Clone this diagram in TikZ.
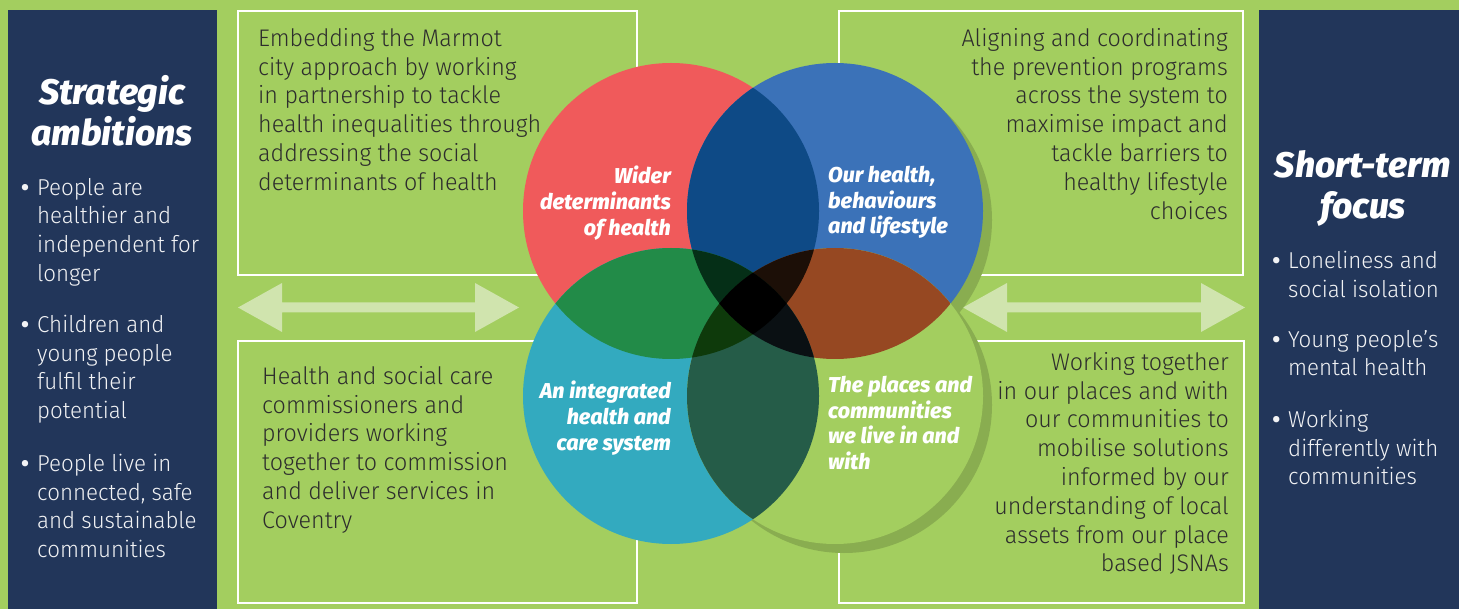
\documentclass[tikz,border=0pt]{standalone}
\usepackage{fontspec}
\usepackage{tikz}
\setmainfont{Fira Sans}[UprightFont={* Light}, FakeStretch=0.97]
\newfontfamily\headfont{Fira Sans}[UprightFont={* ExtraBold Italic}]
\newfontfamily\dotfont{Fira Sans}[UprightFont={* Bold}]
\definecolor{bg}{RGB}{163,206,95}
\definecolor{navy}{RGB}{34,54,90}
\definecolor{R}{RGB}{240,90,91}
\definecolor{B}{RGB}{59,114,184}
\definecolor{C}{RGB}{51,170,191}
\definecolor{G}{RGB}{163,206,95}
\definecolor{RB}{RGB}{14,74,134}
\definecolor{RC}{RGB}{34,139,72}
\definecolor{BG}{RGB}{150,72,34}
\definecolor{CG}{RGB}{37,92,72}
\definecolor{RBC}{RGB}{5,47,23}
\definecolor{RBG}{RGB}{28,15,7}
\definecolor{RCG}{RGB}{14,58,11}
\definecolor{BCG}{RGB}{10,16,19}
\definecolor{dropgreen}{RGB}{137,173,80}
\definecolor{pale}{RGB}{208,228,174}
\definecolor{ink}{RGB}{45,45,45}
\newcommand{\rad}{148pt}
\newcommand{\fillcircle}[2]{\fill[#2] (#1) circle[radius=\rad];}
\newcommand{\clipcircle}[1]{\clip (#1) circle[radius=\rad];}
\newcommand{\lens}[3]{\begin{scope}\clipcircle{#1}\fillcircle{#2}{#3}\end{scope}}
\newcommand{\trio}[4]{\begin{scope}\clipcircle{#1}\clipcircle{#2}\fillcircle{#3}{#4}\end{scope}}
\newcommand{\twoway}[3]{
    \fill[pale] (#1,#3)--(#1+44,#3-24.5)--(#1+44,#3-5)--(#2-44,#3-5)--(#2-44,#3-24.5)--(#2,#3)
    --(#2-44,#3+24.5)--(#2-44,#3+5)--(#1+44,#3+5)--(#1+44,#3+24.5)--cycle;
}
\newcommand{\bul}{\llap{{\dotfont\textbullet}\hspace{8pt}}}
\tikzset{
    body/.style={font=\fontsize{24}{28.8}\selectfont, text=ink, inner sep=0pt},
    side/.style={font=\fontsize{23}{28.6}\selectfont, text=white!94!navy, inner sep=0pt, align=left, anchor=north west},
    head/.style={font=\headfont\fontsize{35.5}{41}\selectfont, text=white, inner sep=0pt, align=center, anchor=north},
    venn/.style={font=\headfont\fontsize{21.5}{25.7}\selectfont, text=white, inner sep=0pt}
}
\begin{document}
\begin{tikzpicture}[x=1pt,y=-1pt]
\useasboundingbox (0,0) rectangle (1459,609);
\fill[bg] (0,0) rectangle (1459,609);
\fill[navy] (8,10) rectangle (217,609);
\fill[navy] (1259,10) rectangle (1459,609);
\foreach \xa/\ya/\xb/\yb in {238/11/637/275, 238/341/637/603, 839/11/1243/275, 839/341/1244/603}{
    \draw[white, line width=2.5pt] (\xa,\ya) rectangle (\xb,\yb);
}
\twoway{238}{519}{307.5}
\twoway{963}{1245}{307.5}
\coordinate (r) at (671,211);
\coordinate (b) at (835,211);
\coordinate (c) at (671,396);
\coordinate (g) at (835,396);
\foreach \p in {b,g}{
    \fill[dropgreen] ([shift={(9,9)}]\p) circle[radius=\rad];
}
\foreach \p/\col in {r/R, b/B, c/C, g/G}{
    \fillcircle{\p}{\col}
}
\foreach \p/\q/\col in {r/b/RB, r/c/RC, b/g/BG, c/g/CG}{
    \lens{\p}{\q}{\col}
}
\foreach \p/\q/\s/\col in {r/b/c/RBC, r/b/g/RBG, r/c/g/RCG, b/c/g/BCG}{
    \trio{\p}{\q}{\s}{\col}
}
\begin{scope}
\clipcircle{r}\clipcircle{b}\clipcircle{c}\fillcircle{g}{black}
\end{scope}
\node[venn, anchor=north east, align=right] (wider) at (671,166) {Wider\\determinants\\of health};
\node[venn, anchor=north west, align=left] (ourhealth) at (828,166) {Our health,\\behaviours\\and lifestyle};
\node[venn, anchor=north east, align=right] (integrated) at (671,381) {An integrated\\health and\\care system};
\node[venn, anchor=north west, align=left] (places) at (828,376) {The places and\\communities\\we live in and\\with};
\node[body, anchor=north west, align=left] (marmot) at (258,28) {Embedding the Marmot\\city approach by working\\in partnership to tackle\\health inequalities through\\addressing the social\\determinants of health};
\node[body, anchor=north west, align=left] (services) at (262,366) {Health and social care\\commissioners and\\providers working\\together to commission\\and deliver services in\\Coventry};
\node[body, anchor=north east, align=right] (prevention) at (1228,28) {Aligning and coordinating\\the prevention programs\\across the system to\\maximise impact and\\tackle barriers to\\healthy lifestyle\\choices};
\node[body, anchor=north east, align=right] (together) at (1229,352) {Working together\\in our places and with\\our communities to\\mobilise solutions\\informed by our\\understanding of local\\assets from our place\\based JSNAs};
\node[head] (ambitions) at (112,75) {Strategic\\ambitions};
\node[side] (amb1) at (37,178) {\bul People are\\healthier and\\independent for\\longer};
\node[side] (amb2) at (37,315) {\bul Children and\\young people\\fulfil their\\potential};
\node[side] (amb3) at (37,454) {\bul People live in\\connected, safe\\and sustainable\\communities};
\node[head] (focus) at (1363,150) {Short-term\\focus};
\node[side] (foc1) at (1288,251) {\bul Loneliness and\\social isolation};
\node[side] (foc2) at (1288,330) {\bul Young people’s\\mental health};
\node[side] (foc3) at (1288,410) {\bul Working\\differently with\\communities};
\end{tikzpicture}
\end{document}
